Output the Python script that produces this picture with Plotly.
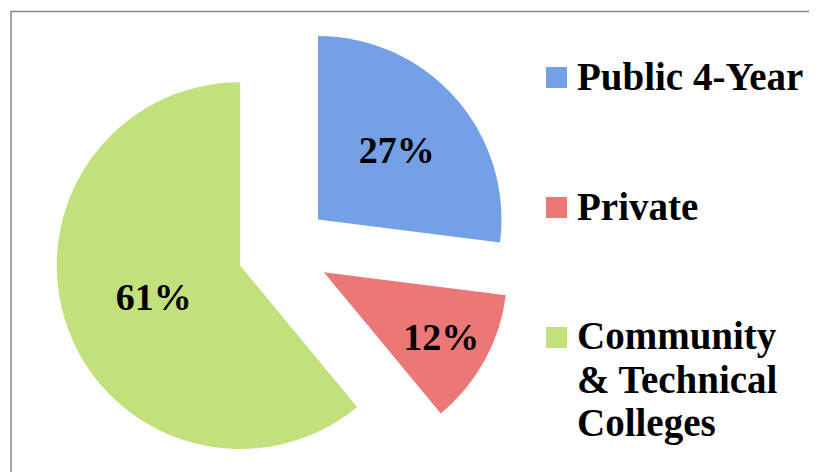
import plotly.graph_objects as go

labels = ["Public 4-Year", "Private", "Community & Technical Colleges"]
values = [27, 12, 61]
legend_lines = [["Public 4-Year"], ["Private"], ["Community", "& Technical", "Colleges"]]
colors = ["#74A1E6", "#EC7777", "#C2E17C"]

W, H = 817, 472
FONT = "Liberation Serif"
OFF = 8  # page body margin offset of the rendered figure

fig = go.Figure(go.Pie(
    labels=labels,
    values=values,
    sort=False,
    direction="clockwise",
    rotation=0,
    pull=[0.251, 0.251, 0.251],
    marker=dict(colors=colors, line=dict(width=0)),
    textinfo="percent",
    textposition="inside",
    insidetextorientation="horizontal",
    textfont=dict(family=FONT, size=38, color="black", weight="bold"),
    domain=dict(x=[46 / W, 505 / W], y=[0.5 / H, (H - 12.5) / H]),
    showlegend=False,
    hoverinfo="label+percent",
))

# legend drawn as annotations with square swatches
item_centers = [77.5, 207.5, 337.5]
line_gap = 43.5
for i, lines in enumerate(legend_lines):
    yc = item_centers[i] - OFF
    fig.add_shape(type="rect", xref="paper", yref="paper",
                  x0=(546 - OFF) / W, x1=(567 - OFF) / W,
                  y0=1 - (yc - 10.5) / H, y1=1 - (yc + 10.5) / H,
                  fillcolor=colors[i], line=dict(width=0))
    for j, txt in enumerate(lines):
        fig.add_annotation(x=(575 - OFF) / W, y=1 - (yc - 1.5 + j * line_gap) / H,
                           xref="paper", yref="paper",
                           text="<b>" + txt + "</b>", showarrow=False,
                           xanchor="left", yanchor="middle",
                           font=dict(family=FONT, size=39, color="black"))

# chart border
fig.add_shape(type="rect", xref="paper", yref="paper",
              x0=(11 - OFF) / W, x1=1.05, y0=-0.05, y1=1 - (11.5 - OFF) / H,
              line=dict(color="#888888", width=1.5), fillcolor="rgba(0,0,0,0)", layer="below")

fig.update_layout(
    width=W, height=H,
    margin=dict(l=0, r=0, t=0, b=0),
    paper_bgcolor="white",
    plot_bgcolor="white",
)

fig.write_html("out.html")
